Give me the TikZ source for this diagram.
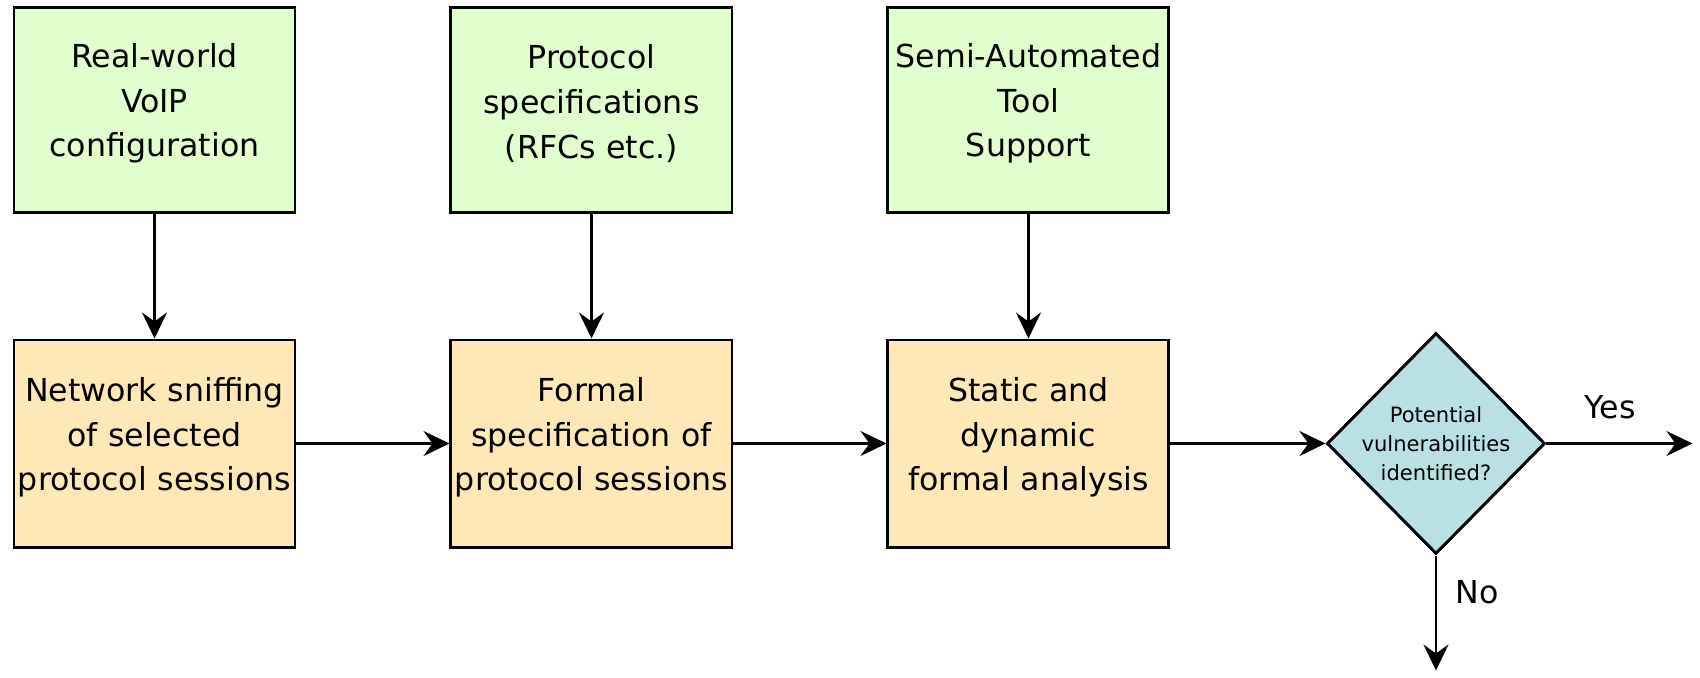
\documentclass[tikz,border=0pt]{standalone}
\usepackage{fontspec}
\setmainfont{DejaVu Sans}
\usetikzlibrary{positioning}
\usetikzlibrary{shapes,arrows,arrows.meta}

\definecolor{inputgreen}{RGB}{224,255,204}
\definecolor{stepamber}{RGB}{255,232,181}
\definecolor{checkblue}{RGB}{185,224,227}

\begin{document}
\begin{tikzpicture}[
    >={Stealth[length=2.6mm,width=2.5mm,inset=0.9mm]},
    box/.style={draw, line width=0.85pt, align=center, text width=2.81cm,
        inner xsep=0pt, minimum width=2.81cm, font=\fontsize{9}{12.7}\selectfont,
        execute at end node={\endgraf\nointerlineskip\vbox to 1.2mm{}}},
    inbox/.style={box, fill=inputgreen, minimum height=2.05cm},
    stepbox/.style={box, fill=stepamber, minimum height=2.07cm},
    check/.style={diamond, draw, line width=0.85pt, fill=checkblue, aspect=1,
        inner sep=-1.5mm, minimum width=2.18cm, minimum height=2.21cm, align=center,
        font=\fontsize{6}{8.3}\selectfont},
    link/.style={->, line width=0.75pt}]

\useasboundingbox (0,0) rectangle (17,-6.77);

\node[inbox] (voip) at (1.545,-1.095) {Real-world\\VoIP\\configuration};
\node[inbox, right=1.53cm of voip] (rfc) {Protocol\\specifications\\(RFCs etc.)};
\node[inbox, right=1.53cm of rfc] (tool) {Semi-Automated\\Tool\\Support};

\node[stepbox, below=1.25cm of voip] (sniff) {Network sniffing\\of selected\\protocol sessions};
\node[stepbox, below=1.25cm of rfc] (formal) {Formal\\specification of\\protocol sessions};
\node[stepbox, below=1.25cm of tool] (analysis) {Static and\\dynamic\\formal analysis};

\node[check, right=1.55cm of analysis] (vuln) {Potential\\vulnerabilities\\identified?};

\coordinate[right=1.46cm of vuln] (yesend);
\coordinate[below=1.15cm of vuln] (noend);

\node[font=\fontsize{9}{12.7}\selectfont] (yeslbl) at (16.10,-4.07) {Yes};
\node[font=\fontsize{9}{12.7}\selectfont] (nolbl) at (14.77,-5.92) {No};

\draw[link] (voip) -- (sniff);
\draw[link] (rfc) -- (formal);
\draw[link] (tool) -- (analysis);

\draw[link] (sniff) -- (formal);
\draw[link] (formal) -- (analysis);
\draw[link] (analysis) -- (vuln);

\draw[link] (vuln.east) -- (yesend);
\draw[link] (vuln.south) -- (noend);
\end{tikzpicture}
\end{document}
